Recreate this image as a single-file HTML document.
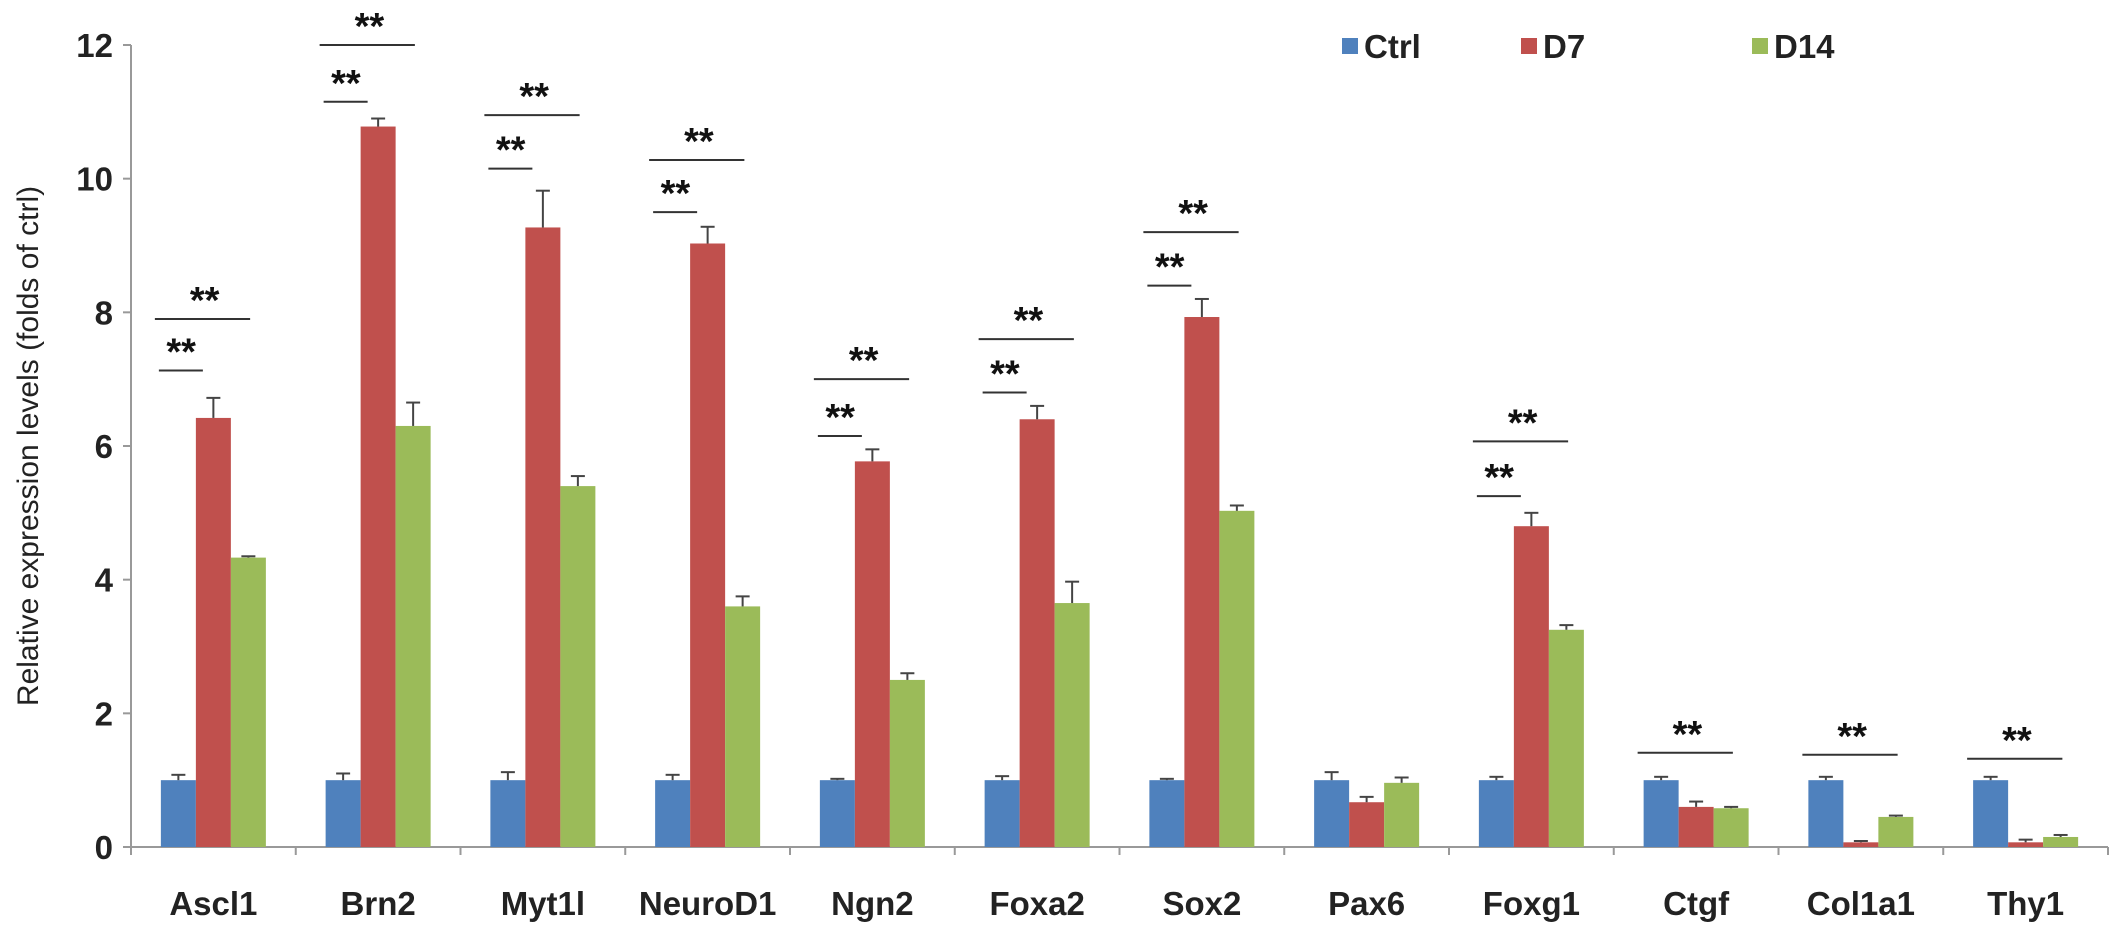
<!DOCTYPE html>
<html><head><meta charset="utf-8"><style>
body{margin:0;background:#fff;}
svg{display:block;font-family:"Liberation Sans",Arial,sans-serif;}
</style></head><body>
<svg id="chart" width="2126" height="932"></svg>
<script>
const categories=["Ascl1","Brn2","Myt1l","NeuroD1","Ngn2","Foxa2","Sox2","Pax6","Foxg1","Ctgf","Col1a1","Thy1"];
const ctrlValues=[1,1,1,1,1,1,1,1,1,1,1,1];
const ctrlErr=[0.08,0.1,0.12,0.08,0.02,0.06,0.02,0.12,0.05,0.05,0.05,0.05];
const d7Values=[6.42,10.78,9.27,9.03,5.77,6.4,7.93,0.67,4.8,0.6,0.07,0.07];
const d7Err=[0.3,0.12,0.55,0.25,0.18,0.2,0.27,0.08,0.2,0.08,0.02,0.04];
const d14Values=[4.33,6.3,5.4,3.6,2.5,3.65,5.03,0.96,3.25,0.58,0.45,0.15];
const d14Err=[0.02,0.35,0.15,0.15,0.1,0.32,0.08,0.08,0.07,0.02,0.02,0.03];
const sigShort=[7.13,11.15,10.15,9.5,6.15,6.8,8.4,null,5.25,null,null,null];
const sigLong=[7.9,12.0,10.95,10.28,7.0,7.6,9.2,null,6.07,1.41,1.38,1.32];
const yTicks=[0,2,4,6,8,10,12];
const seriesNames=["Ctrl","D7","D14"];
const colors=["#4f81bd","#c0504d","#9bbb59"];

const NS="http://www.w3.org/2000/svg";
const svg=document.getElementById("chart");
const X0=131,X1=2108,Y0=847,Y12=45;
const gw=(X1-X0)/categories.length, bw=35;
function yv(v){return Y0-v*(Y0-Y12)/12;}
function gx(i){return X0+gw*(i+0.5);}
function el(t,a,p){const e=document.createElementNS(NS,t);for(const k in a)e.setAttribute(k,a[k]);(p||svg).appendChild(e);return e;}

let ax=el("line",{x1:X0,y1:Y12,x2:X0,y2:Y0,stroke:"#999","stroke-width":2});


let bx=el("line",{x1:X0,y1:Y0,x2:X1,y2:Y0,stroke:"#999","stroke-width":2});


yTicks.forEach(t=>{
  el("line",{x1:X0-8,y1:yv(t),x2:X0,y2:yv(t),stroke:"#999","stroke-width":2});
  const tx=el("text",{x:X0-18,y:yv(t)+12,"text-anchor":"end","font-size":33,"font-weight":"bold",fill:"#222"});
  tx.textContent=t;
  
  
});
for(let i=0;i<=categories.length;i++){
  el("line",{x1:X0+gw*i,y1:Y0,x2:X0+gw*i,y2:Y0+8,stroke:"#999","stroke-width":2});
}
const yt=el("text",{x:0,y:0,transform:"translate(38,446) rotate(-90)","text-anchor":"middle","font-size":30,fill:"#222"});
yt.textContent="Relative expression levels (folds of ctrl)";



const vals=[ctrlValues,d7Values,d14Values], errs=[ctrlErr,d7Err,d14Err];
categories.forEach((c,i)=>{
  const cx=gx(i);
  for(let s=0;s<3;s++){
    const x=cx-1.5*bw+s*bw, v=vals[s][i], e=errs[s][i];
    const r=el("rect",{x:x,y:yv(v),width:bw,height:Y0-yv(v),fill:colors[s]});
    
    
    const mx=x+bw/2;
    el("line",{x1:mx,y1:yv(v),x2:mx,y2:yv(v+e),stroke:"#444","stroke-width":2});
    el("line",{x1:mx-7,y1:yv(v+e),x2:mx+7,y2:yv(v+e),stroke:"#444","stroke-width":2});
  }
  const lab=el("text",{x:cx,y:Y0+68,"text-anchor":"middle","font-size":33,"font-weight":"bold",fill:"#222"});
  lab.textContent=c;
  
  
  const bl=cx-1.5*bw;
  if(sigShort[i]!=null){
    const yy=yv(sigShort[i]);
    el("line",{x1:bl-2,y1:yy,x2:bl+bw*1.2,y2:yy,stroke:"#333","stroke-width":2});
    const st=el("text",{x:bl+bw*0.58,y:yy-6,"text-anchor":"middle","font-size":38,"font-weight":"bold",fill:"#111"});
    st.textContent="**";
    
    
  }
  if(sigLong[i]!=null){
    const yy=yv(sigLong[i]);
    el("line",{x1:bl-6,y1:yy,x2:bl+bw*2.55,y2:yy,stroke:"#333","stroke-width":2});
    const st=el("text",{x:bl+bw*1.25,y:yy-6,"text-anchor":"middle","font-size":38,"font-weight":"bold",fill:"#111"});
    st.textContent="**";
    
    
  }
});

const lx=[1342,1521,1752];
seriesNames.forEach((n,s)=>{
  const g=el("g",{});
  
  
  el("rect",{x:lx[s],y:38,width:16,height:16,fill:colors[s]},g);
  const t=el("text",{x:lx[s]+22,y:58,"font-size":33,"font-weight":"bold",fill:"#222"},g);
  t.textContent=n;
});
</script>
</body></html>
